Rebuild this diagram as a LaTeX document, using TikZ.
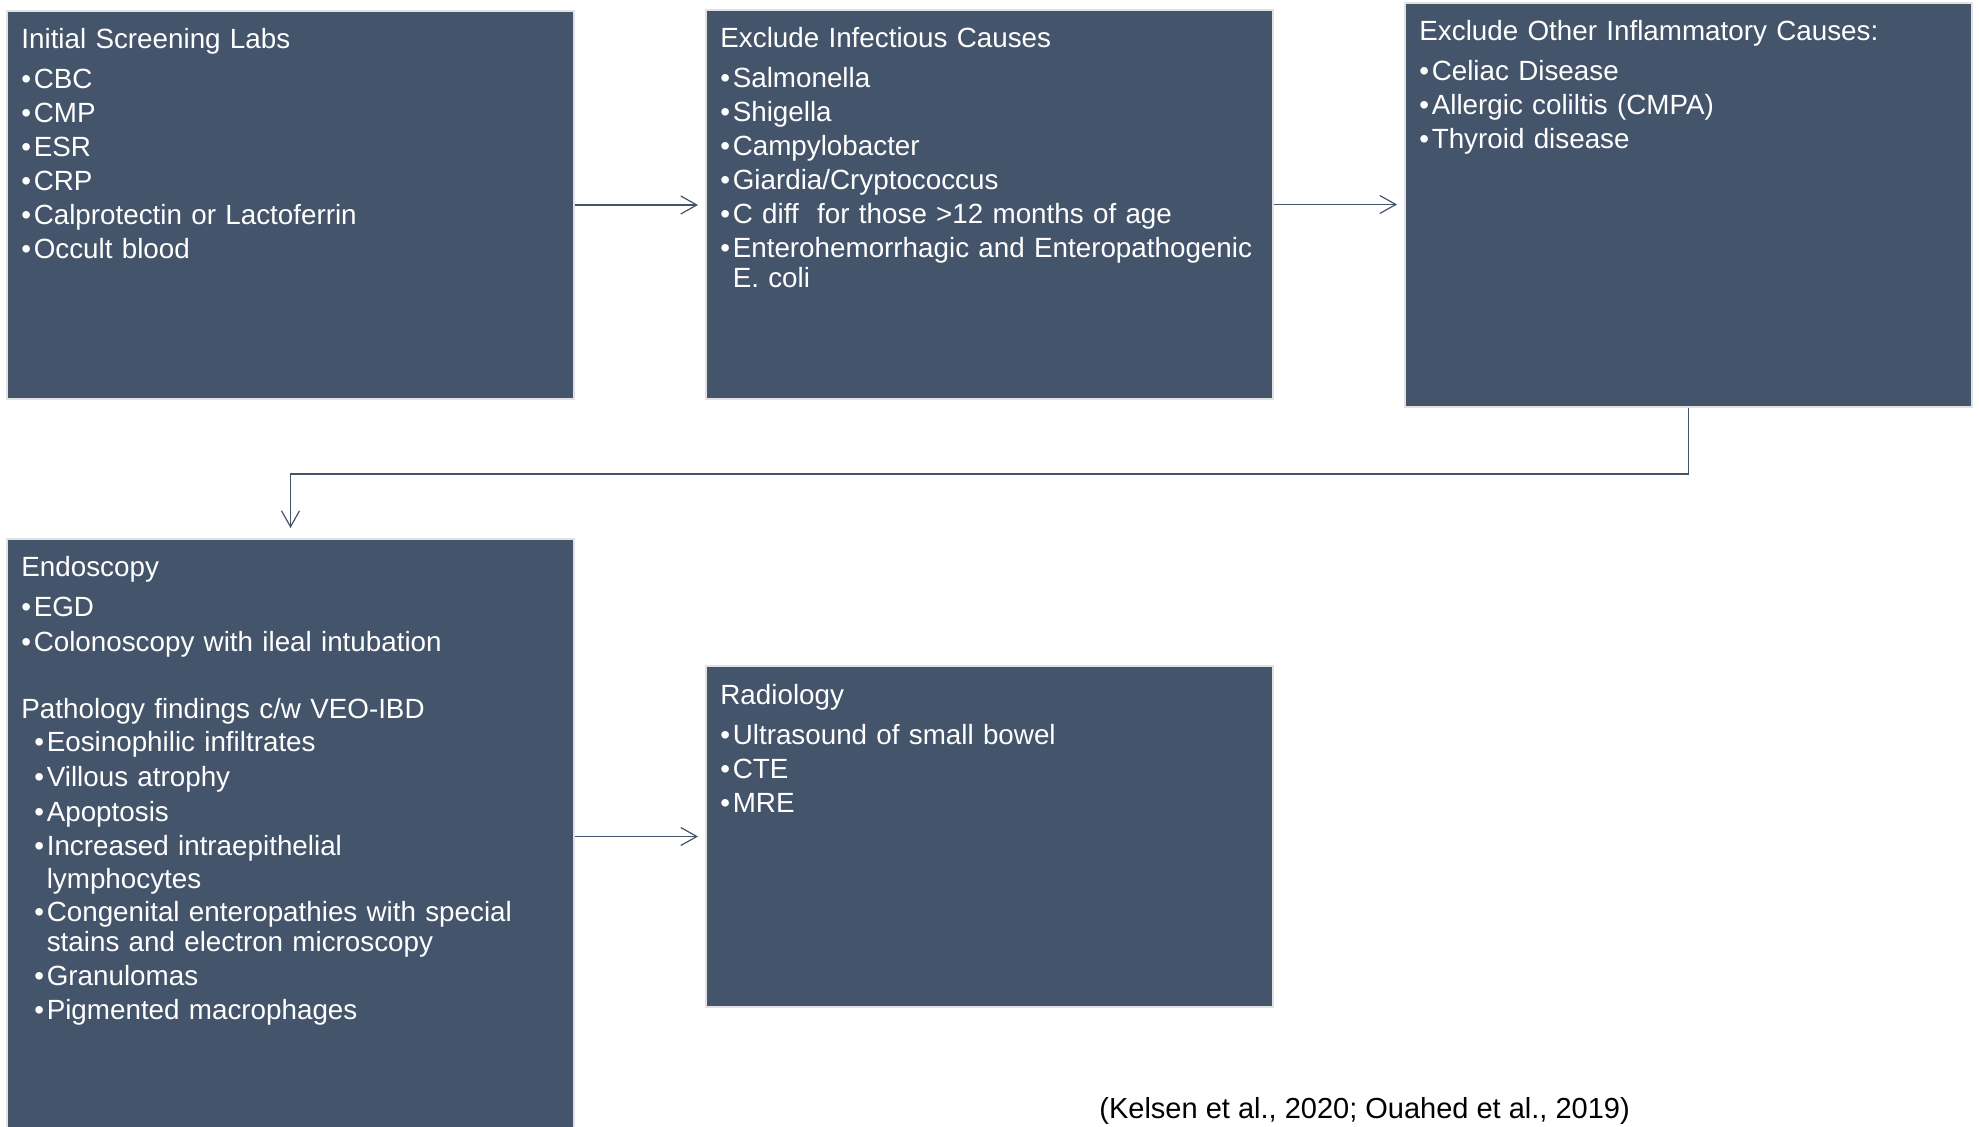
\documentclass[tikz,border=0pt]{standalone}
\usepackage{fontspec}
\setmainfont{Liberation Sans}
\usetikzlibrary{arrows.meta}

\definecolor{slate}{HTML}{44546A}
\definecolor{rim}{HTML}{E2E2E2}

% bullets
\newcommand{\bul}{\makebox[6.2pt][l]{•}}
\newcommand{\subbul}{\hspace*{6.5pt}\bul}

\begin{document}
\begin{tikzpicture}[x=0.5pt, y=-0.5pt,
	box/.style={draw=rim, line width=1pt, fill=slate, anchor=north west, inner sep=0pt},
	boxtext/.style={anchor=base west, text=white, text width=272pt, align=left, inner sep=0pt,
		font=\fontsize{13.9pt}{15pt}\selectfont},
	link/.style={draw=slate, line width=0.6pt, -{Straight Barb[length=8pt,width=9pt]}}]

	\useasboundingbox (0,0) rectangle (1979,1127);
	\clip (0,0) rectangle (1979,1127);

	% Box dimensions
	\def\bw{283.5pt}
	\def\tx{7.5pt}
	\def\ty{-19.5pt}

	% Boxes
	\node[box, minimum width=\bw, minimum height=194pt] (labs) at (6,10) {};
	\node[box, minimum width=\bw, minimum height=194.5pt] (infect) at (705,9) {};
	\node[box, minimum width=\bw, minimum height=202pt] (inflam) at (1404,2) {};
	\node[box, minimum width=\bw, minimum height=300pt] (endo) at (6,538) {};
	\node[box, minimum width=\bw, minimum height=170.5pt] (radio) at (705,665) {};

	% Texts
	\node[boxtext] (labstext) at ([xshift=\tx, yshift=\ty]labs.north west) {Initial Screening Labs\\[5pt]
		\bul CBC\\[2pt]
		\bul CMP\\[2pt]
		\bul ESR\\[2pt]
		\bul CRP\\[2pt]
		\bul Calprotectin or Lactoferrin\\[2pt]
		\bul Occult blood};

	\node[boxtext] (infecttext) at ([xshift=\tx, yshift=\ty]infect.north west) {Exclude Infectious Causes\\[5pt]
		\bul Salmonella\\[2pt]
		\bul Shigella\\[2pt]
		\bul Campylobacter\\[2pt]
		\bul Giardia/Cryptococcus\\[2pt]
		\bul C diff\ \ for those >12 months of age\\[2pt]
		\bul Enterohemorrhagic and Enteropathogenic\\
		\hspace*{6.2pt}E. coli};

	\node[boxtext] (inflamtext) at ([xshift=\tx, yshift=\ty]inflam.north west) {Exclude Other Inflammatory Causes:\\[5pt]
		\bul Celiac Disease\\[2pt]
		\bul Allergic coliltis (CMPA)\\[2pt]
		\bul Thyroid disease};

	\node[boxtext] (endotext) at ([xshift=\tx, yshift=\ty]endo.north west) {Endoscopy\\[5pt]
		\bul EGD\\[2.5pt]
		\bul Colonoscopy with ileal intubation\\[18pt]
		Pathology findings c/w VEO-IBD\\[2pt]
		\subbul Eosinophilic infiltrates\\[2.3pt]
		\subbul Villous atrophy\\[2.3pt]
		\subbul Apoptosis\\[2.3pt]
		\subbul Increased intraepithelial\\[1.5pt]
		\hspace*{12.7pt}lymphocytes\\[1.5pt]
		\subbul Congenital enteropathies with special\\
		\hspace*{12.7pt}stains and electron microscopy\\[2pt]
		\subbul Granulomas\\[2pt]
		\subbul Pigmented macrophages};

	\node[boxtext] (radiotext) at ([xshift=\tx, yshift=\ty]radio.north west) {Radiology\\[5pt]
		\bul Ultrasound of small bowel\\[2pt]
		\bul CTE\\[2pt]
		\bul MRE};

	% Source
	\node[anchor=base west, inner sep=0pt, font=\fontsize{14.5pt}{15pt}\selectfont] (source) at (1099,1118)
		{(Kelsen et al., 2020; Ouahed et al., 2019)};

	% Arrows
	\draw[link, shorten >=3.5pt] (labs.east) -- (labs.east -| infect.west);
	\draw[link, shorten >=3.5pt] (infect.east) -- (infect.east -| inflam.west);
	\draw[link, shorten >=5pt] (inflam.south) -- ++(0,66) -| (endo.north);
	\draw[link, shorten >=3.5pt] (endo.east |- radio.west) -- (radio.west);

\end{tikzpicture}
\end{document}
